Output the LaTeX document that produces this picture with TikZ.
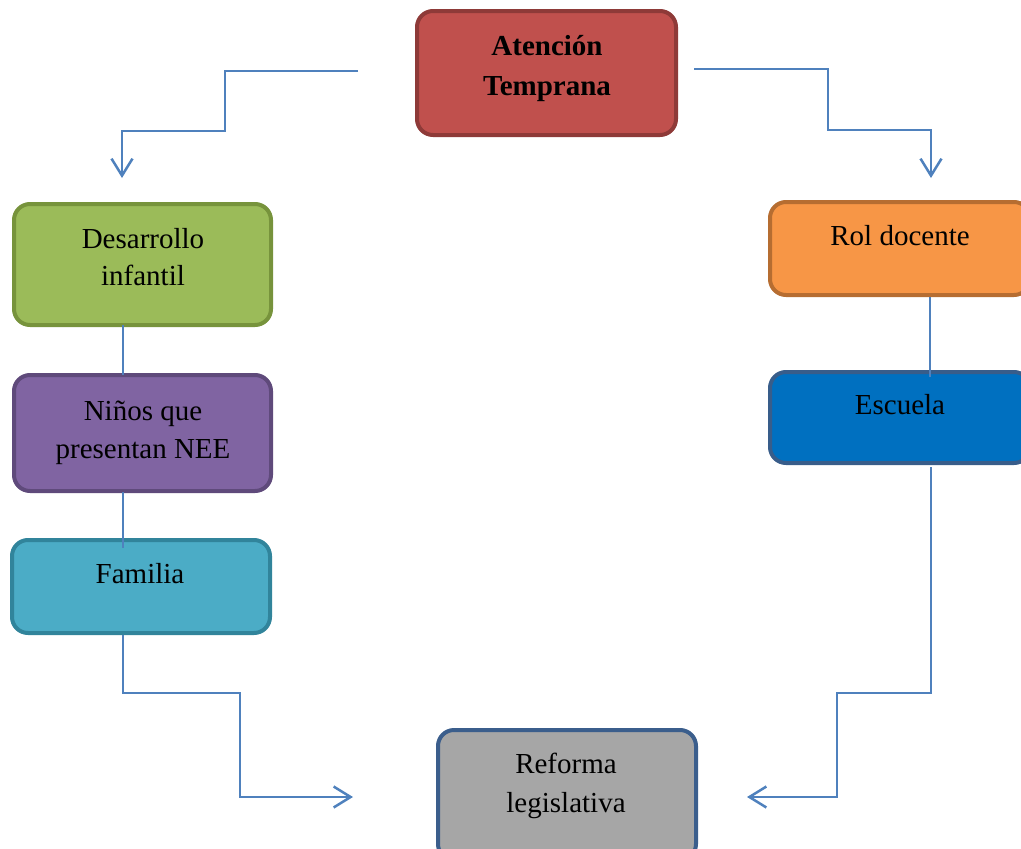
\documentclass[tikz,border=0pt]{standalone}
\usepackage{fontspec}
\setmainfont{Liberation Serif}
\usetikzlibrary{arrows.meta,calc}
\definecolor{cl}{HTML}{4F81BD}
\definecolor{topF}{HTML}{C0504D}\definecolor{topD}{HTML}{8E3A38}
\definecolor{desF}{HTML}{9BBB59}\definecolor{desD}{HTML}{77933C}
\definecolor{ninF}{HTML}{8064A2}\definecolor{ninD}{HTML}{5F4A7B}
\definecolor{famF}{HTML}{4BACC6}\definecolor{famD}{HTML}{31849B}
\definecolor{rolF}{HTML}{F79646}\definecolor{rolD}{HTML}{B66D31}
\definecolor{escF}{HTML}{0070C0}\definecolor{escD}{HTML}{385D8A}
\definecolor{refF}{HTML}{A6A6A6}\definecolor{refD}{HTML}{3B5E8C}
\begin{document}
\begin{tikzpicture}[x=1pt,y=-1pt,
  box/.style={rounded corners=16pt, line width=4pt, inner sep=0pt, rectangle},
  conn/.style={draw=cl, line width=2.5pt},
  arr/.style={conn, -{Straight Barb[length=17pt,width=21pt]}},
  lbl/.style={font=\fontsize{29}{37}\selectfont, anchor=base, inner sep=0pt}]
\useasboundingbox (0,0) rectangle (1021,849);
\clip (0,0) rectangle (1021,849);
% boxes
\node[box, fill=topF, draw=topD, minimum width=259pt, minimum height=124pt] (top) at (546.5,73) {};
\node[box, fill=desF, draw=desD, minimum width=257pt, minimum height=121pt] (des) at (142.5,264.5) {};
\node[box, fill=ninF, draw=ninD, minimum width=257pt, minimum height=116pt] (nin) at (142.5,433) {};
\node[box, fill=famF, draw=famD, minimum width=258pt, minimum height=93pt] (fam) at (141,586.5) {};
\node[box, fill=rolF, draw=rolD, minimum width=260pt, minimum height=93pt] (rol) at (900,248.5) {};
\node[box, fill=escF, draw=escD, minimum width=260pt, minimum height=91pt] (esc) at (900,417.5) {};
\node[box, fill=refF, draw=refD, minimum width=258pt, minimum height=130pt] (ref) at (567,795) {};
% labels
\node[lbl, font=\fontsize{29}{37}\selectfont\bfseries] (t1) at (547,55) {Atención};
\node[lbl, font=\fontsize{29}{37}\selectfont\bfseries] (t2) at (547,95) {Temprana};
\node[lbl] (d1) at (143,248) {Desarrollo};
\node[lbl] (d2) at (143,285) {infantil};
\node[lbl] (n1) at (143,420) {Niños que};
\node[lbl] (n2) at (143,458) {presentan NEE};
\node[lbl] (f1) at (140,583) {Familia};
\node[lbl] (r1) at (900,245) {Rol docente};
\node[lbl] (e1) at (900,414) {Escuela};
\node[lbl] (g1) at (566,773) {Reforma};
\node[lbl] (g2) at (566,812) {legislativa};
% free ends
\coordinate (la) at (358,71);
\coordinate (lb) at (122,178);
\coordinate (ra) at (694,69);
\coordinate (rb) at (931,178);
\coordinate (ba) at (353,797);
\coordinate (bb) at (747,797);
% connectors
\draw[arr] (la) -- (225,71) -- (225,131) -- (lb |- 0,131) -- (lb);
\draw[arr] (ra) -- (828,69) -- (828,130) -- (rb |- 0,130) -- (rb);
\draw[conn] (123,325) -- (123,375);
\draw[conn] (123,492) -- (123,548);
\draw[conn] (930,297) -- (930,377);
\draw[arr] (123,635) -- (123,693) -- (240,693) -- (240,797) -- (ba);
\draw[arr] (931,467) -- (931,693) -- (837,693) -- (837,797) -- (bb);
\end{tikzpicture}
\end{document}
